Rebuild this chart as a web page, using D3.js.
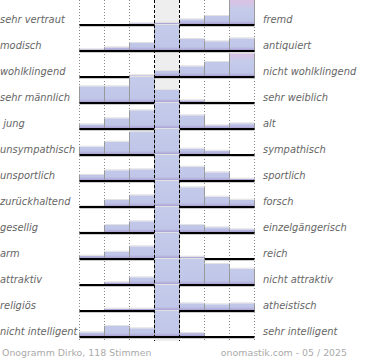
<!DOCTYPE html>
<html>
<head>
<meta charset="utf-8">
<title>Onogramm Dirko</title>
<script src="https://d3js.org/d3.v7.min.js"></script>
<style>
body { margin: 0; background: #fff; }
.lbl { font-family: "DejaVu Sans", sans-serif; font-style: italic; font-size: 9.9px; fill: #666; white-space: pre; }
.foot { font-family: "DejaVu Sans", sans-serif; font-size: 9.4px; fill: #aaa; }
</style>
</head>
<body>
<svg class="chart"></svg>
<script>
// data: share of votes per scale step (7 steps, left pole -> right pole)
var leftLabels = ["sehr vertraut", "modisch", "wohlklingend", "sehr männlich", " jung", "unsympathisch",
  "unsportlich", "zurückhaltend", "gesellig", "arm", "attraktiv", "religiös", "nicht intelligent"];
var rightLabels = ["fremd", "antiquiert", "nicht wohlklingend", "sehr weiblich", "alt", "sympathisch",
  "sportlich", "forsch", "einzelgängerisch", "reich", "nicht attraktiv", "atheistisch", "sehr intelligent"];
var values = [
  [0, 0.3, 1.7, 2.3, 5.7, 9, 60],
  [1.7, 3.7, 8, 52, 12, 9.7, 12.7],
  [0, 0, 1.7, 6, 10.7, 15, 23.7],
  [16.7, 16.7, 30, 13, 2.7, 1.3, 0],
  [4.7, 10.7, 18.7, 43, 13.7, 3.7, 5.7],
  [8.3, 13.3, 23, 45, 6.3, 4.3, 0],
  [6, 10.7, 11.7, 46, 14.3, 8.7, 2.3],
  [1, 7, 11.7, 43, 19.7, 10.3, 7.3],
  [0.7, 8, 11.7, 62, 8, 5.7, 3.7],
  [3.3, 7.3, 12.7, 74, 2.3, 0, 0],
  [0, 2.7, 7.7, 30, 28, 21, 16.3],
  [0, 2.3, 2.3, 74, 7.7, 6.7, 7.7],
  [4.7, 11, 8.7, 72, 4, 0, 0]
];
var footLeft = "Onogramm Dirko, 118 Stimmen";
var footRight = "onomastik.com - 05 / 2025";

var W = 370, H = 360;
var rowH = 26, firstBase = 25;
var steps = d3.range(7);

var svg = d3.select(".chart").attr("width", W).attr("height", H);

var x = d3.scaleBand().domain(steps).range([79.5, 254.5]);
var y = d3.scaleLinear().domain([0, 26]).range([0, 26]).clamp(true);
var rowY = d3.scalePoint().domain(d3.range(values.length))
  .range([firstBase, firstBase + rowH * (values.length - 1)]);
var bottom = rowY(values.length - 1) + 4;

// gradients in the row's own space (baseline at 0)
var defs = svg.append("defs");
function grad(id, stops) {
  var g = defs.append("linearGradient").attr("id", id)
    .attr("gradientUnits", "userSpaceOnUse")
    .attr("x1", 0).attr("x2", 0).attr("y1", -26).attr("y2", 0);
  stops.forEach(function(s){ g.append("stop").attr("offset", s[0]).attr("stop-color", s[1]); });
}
grad("blue", [[0, "#c5cbea"], [0.84, "#c0c6e8"], [0.92, "#b3b0dc"], [1, "#a08fc8"]]);
grad("pink", [[0, "#dcc1e2"], [0.2, "#d3c4e6"], [0.38, "#c5cbea"], [0.84, "#c0c6e8"], [0.92, "#b3b0dc"], [1, "#a08fc8"]]);

// middle column background
svg.append("rect")
  .attr("x", x(3)).attr("y", 0).attr("width", x.bandwidth()).attr("height", bottom)
  .attr("fill", "#eeeeee");

// dotted grid
svg.append("g").selectAll("line")
  .data([0, 1, 2, 5, 6, 7])
  .join("line")
  .attr("x1", function(d){ return 79.5 + d * x.bandwidth(); })
  .attr("x2", function(d){ return 79.5 + d * x.bandwidth(); })
  .attr("y1", 0).attr("y2", bottom)
  .attr("stroke", "#888").attr("stroke-width", 1).attr("stroke-dasharray", "1,2");

// rows
var rows = svg.append("g").selectAll("g")
  .data(values)
  .join("g")
  .attr("transform", function(d, i){ return "translate(0," + rowY(i) + ")"; });

var bars = rows.selectAll("g.bar")
  .data(function(d){ return d.map(function(v, j){ return {v: v, j: j}; }); })
  .join("g").attr("class", "bar");

bars.append("rect")
  .attr("x", function(d){ return x(d.j); })
  .attr("y", function(d){ return -y(d.v); })
  .attr("width", x.bandwidth())
  .attr("height", function(d){ return y(d.v); })
  .attr("fill", function(d){ return d.j === 6 ? "url(#pink)" : "url(#blue)"; });

// light top edge
bars.filter(function(d){ return d.v > 0.5; }).append("line")
  .attr("x1", function(d){ return x(d.j); })
  .attr("x2", function(d){ return x(d.j) + x.bandwidth(); })
  .attr("y1", function(d){ return -y(d.v) - 0.5; })
  .attr("y2", function(d){ return -y(d.v) - 0.5; })
  .attr("stroke", "#e2e2e2");

// grey sides
bars.filter(function(d){ return d.v > 0.5; }).selectAll("line.side")
  .data(function(d){ return [{xx: x(d.j), h: y(d.v)}, {xx: x(d.j) + x.bandwidth(), h: y(d.v)}]; })
  .join("line").attr("class", "side")
  .attr("x1", function(d){ return d.xx; }).attr("x2", function(d){ return d.xx; })
  .attr("y1", function(d){ return -d.h; }).attr("y2", 0)
  .attr("stroke", "#999").attr("stroke-width", 1);

// dashed lines around middle column
svg.append("g").selectAll("line")
  .data([3, 4])
  .join("line")
  .attr("x1", function(d){ return 79.5 + d * x.bandwidth(); })
  .attr("x2", function(d){ return 79.5 + d * x.bandwidth(); })
  .attr("y1", 0).attr("y2", bottom)
  .attr("stroke", "#000").attr("stroke-width", 1).attr("stroke-dasharray", "3,2");

// baselines
rows.append("line")
  .attr("x1", 79.5).attr("x2", 254.5).attr("y1", 1.5).attr("y2", 1.5)
  .attr("stroke", "#ccc").attr("stroke-width", 1);
rows.append("line")
  .attr("x1", 79.5).attr("x2", 254.5).attr("y1", 0).attr("y2", 0)
  .attr("stroke", "#000").attr("stroke-width", 2);

// labels
rows.append("text").attr("class", "lbl")
  .attr("x", 0).attr("y", -2)
  .text(function(d, i){ return leftLabels[i]; });
rows.append("text").attr("class", "lbl")
  .attr("x", 263).attr("y", -2)
  .text(function(d, i){ return rightLabels[i]; });

// footer
svg.append("text").attr("class", "foot").attr("x", 2).attr("y", 356).text(footLeft);
svg.append("text").attr("class", "foot").attr("x", 347).attr("y", 356)
  .attr("text-anchor", "end").text(footRight);
</script>
</body>
</html>
